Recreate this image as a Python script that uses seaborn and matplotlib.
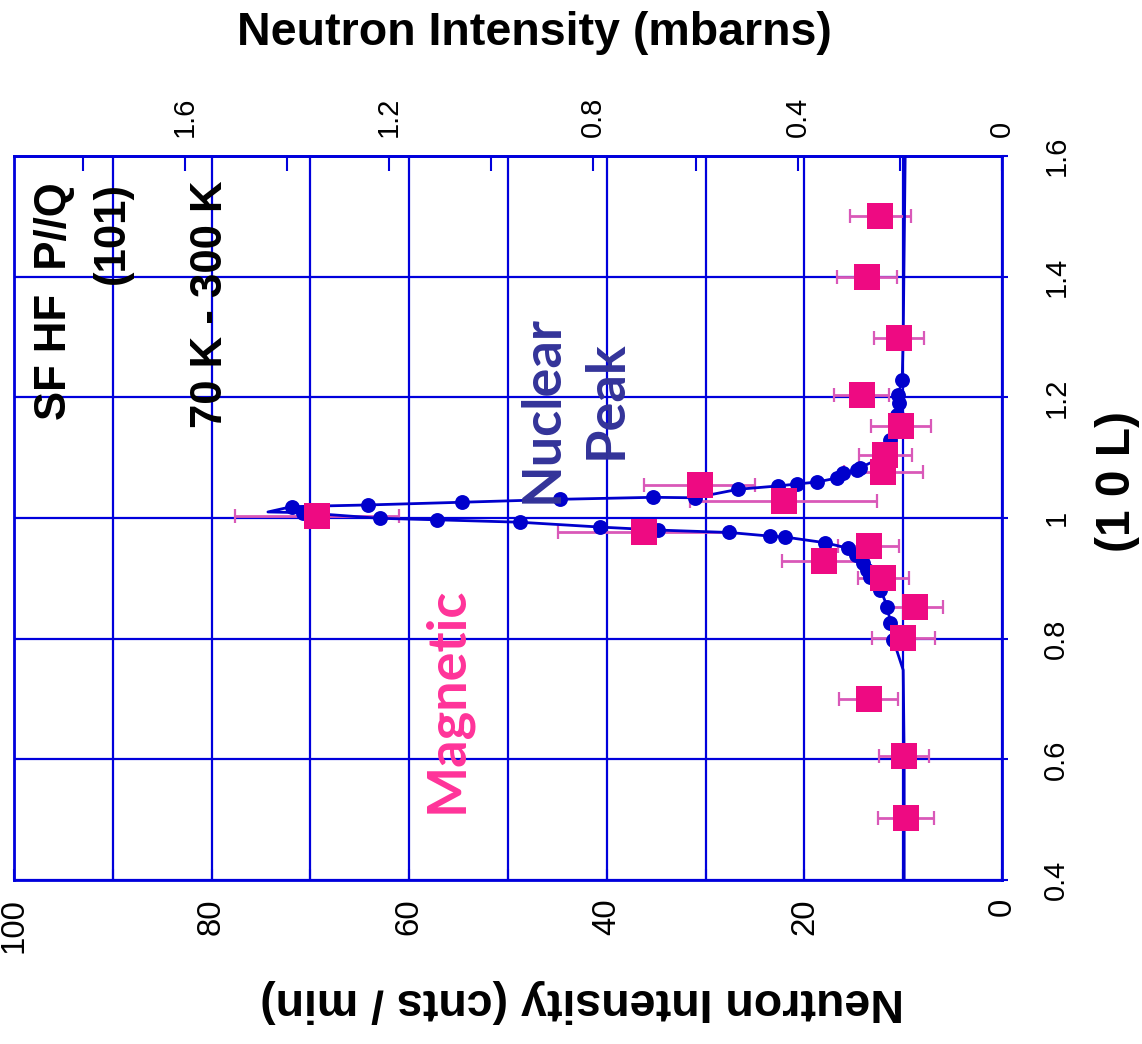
import numpy as np
import pandas as pd
import matplotlib
matplotlib.use("Agg")
import matplotlib.pyplot as plt
from matplotlib import font_manager as fm
import seaborn as sns

# ---- nuclear peak scan along (1 0 L): measured points (cnts/min) ----
nuc_L = [0.798, 0.826, 0.853, 0.881, 0.902, 0.914, 0.925, 0.938, 0.950, 0.959,
         0.9685, 0.970, 0.976, 0.980, 0.985, 0.993, 0.997, 0.9995, 1.0088,
         1.0188, 1.0216, 1.0261, 1.0310, 1.0343, 1.0335, 1.0476, 1.0531, 1.0564,
         1.0597, 1.0663, 1.0746, 1.0796, 1.0829, 1.0995, 1.129, 1.151, 1.170,
         1.190, 1.204, 1.229]
nuc_I = [11.0, 11.3, 11.6, 12.3, 13.4, 13.7, 14.1, 14.8, 15.6, 17.9,
         22.0, 23.5, 27.6, 34.8, 40.7, 48.8, 57.2, 63.0, 70.7,
         71.9, 64.2, 54.7, 44.7, 35.3, 31.1, 26.7, 22.7, 20.7,
         18.7, 16.7, 16.1, 14.7, 14.4, 12.3, 11.3, 10.8, 10.6,
         10.4, 10.5, 10.1]

# continuous trace through the scan, including the background tails
trace_L = [0.40, 0.60, 0.748, 0.798, 0.826, 0.853, 0.881, 0.902, 0.914, 0.925,
           0.938, 0.950, 0.959, 0.9685, 0.970, 0.976, 0.980, 0.985, 0.993,
           0.997, 0.9995, 1.0088, 1.0100, 1.0188, 1.0216, 1.0261, 1.0310,
           1.0343, 1.0335, 1.0476, 1.0531, 1.0564, 1.0597, 1.0663, 1.0746,
           1.0796, 1.0829, 1.0995, 1.129, 1.151, 1.170, 1.190, 1.204, 1.229,
           1.30, 1.45, 1.60]
trace_I = [9.9, 9.9, 10.0, 11.0, 11.3, 11.6, 12.3, 13.4, 13.7, 14.1,
           14.8, 15.6, 17.9, 22.0, 23.5, 27.6, 34.8, 40.7, 48.8,
           57.2, 63.0, 70.7, 74.3, 71.9, 64.2, 54.7, 44.7,
           35.3, 31.1, 26.7, 22.7, 20.7, 18.7, 16.7, 16.1,
           14.7, 14.4, 12.3, 11.3, 10.8, 10.6, 10.4, 10.5, 10.1,
           10.0, 9.9, 9.8]

# ---- spin-flip (magnetic) intensities with uncertainties ----
mag_L = [0.503, 0.605, 0.700, 0.801, 0.852, 0.901, 0.928, 0.953, 0.976,
         1.003, 1.028, 1.055, 1.076, 1.104, 1.153, 1.204, 1.299, 1.400, 1.501]
mag_I = [9.7, 9.9, 13.5, 10.0, 8.8, 12.0, 18.0, 13.5, 36.2,
         69.3, 22.1, 30.6, 12.0, 11.8, 10.2, 14.2, 10.4, 13.7, 12.3]
mag_err = [2.85, 2.5, 2.95, 3.2, 2.8, 2.6, 4.3, 3.1, 8.75,
           8.3, 9.45, 5.6, 4.0, 2.65, 3.05, 2.8, 2.55, 3.05, 3.1]

# ---- axis ticks ----
l_ticks = [0.4, 0.6, 0.8, 1.0, 1.2, 1.4, 1.6]
l_tick_labels = ["0.4", "0.6", "0.8", "1", "1.2", "1.4", "1.6"]
cnt_ticks = [100, 80, 60, 40, 20, 0]
cnt_tick_labels = ["100", "80", "60", "40", "20", "0"]
cnt_minor_ticks = [90, 70, 50, 30, 10]
mb_ticks = [1.6, 1.2, 0.8, 0.4, 0.0]
mb_tick_labels = ["1.6", "1.2", "0.8", "0.4", "0"]
mb_minor_ticks = [1.8, 1.4, 1.0, 0.6, 0.2]
CNTS_PER_MBARN = 51.7

BLUE = "#0000DC"
DOT_BLUE = "#0000CC"
PINK = "#EE0A82"
ERR_PINK = "#D958B8"
NUC_TEXT = "#333399"
MAG_TEXT = "#FF3399"

sns.set_style("white")
plt.rcParams["font.family"] = ["Liberation Sans", "DejaVu Sans"]
plt.rcParams["text.color"] = "black"
plt.rcParams["xtick.labelcolor"] = "black"
plt.rcParams["ytick.labelcolor"] = "black"


def has_font(name):
    try:
        fm.findfont(fm.FontProperties(family=name), fallback_to_default=False)
        return True
    except ValueError:
        return False


if has_font("Liberation Sans Narrow"):
    title_font = dict(family=["Liberation Sans Narrow", "DejaVu Sans"], size=40.5)
else:
    title_font = dict(family=["Liberation Sans", "DejaVu Sans"], size=33.5)

W, H = 1142, 1044
fig = plt.figure(figsize=(W / 100, H / 100), dpi=100)
fig.patch.set_facecolor("white")
ax = fig.add_axes([14 / W, 1 - 880 / H, 988 / W, 724 / H])

nuc_df = pd.DataFrame({"L": nuc_L, "I": nuc_I})
trace_df = pd.DataFrame({"L": trace_L, "I": trace_I})
mag_df = pd.DataFrame({"L": mag_L, "I": mag_I, "err": mag_err})

ax.errorbar(mag_df["I"], mag_df["L"], xerr=mag_df["err"], fmt="none",
            ecolor=ERR_PINK, elinewidth=2.0, capsize=4.7, capthick=1.6, zorder=2)
sns.lineplot(data=trace_df, x="I", y="L", sort=False, estimator=None,
             color=DOT_BLUE, lw=2.0, ax=ax, zorder=3)
sns.scatterplot(data=nuc_df, x="I", y="L", color=DOT_BLUE, s=115,
                linewidth=0, ax=ax, zorder=3)
sns.scatterplot(data=mag_df, x="I", y="L", color=PINK, marker="s", s=330,
                linewidth=0, ax=ax, zorder=4)

ax.set_xlim(100, 0)
ax.set_ylim(0.4, 1.6)
ax.set_xlabel("")
ax.set_ylabel("")

# bottom axis: counts
ax.set_xticks(cnt_ticks, labels=cnt_tick_labels)
ax.set_xticks(cnt_minor_ticks, minor=True)
ax.tick_params(axis="x", which="both", direction="in", length=8, width=1.5,
               color=BLUE, bottom=True, top=False)
ax.tick_params(axis="x", which="major", labelsize=23.8, pad=13,
               labelrotation=90, labelcolor="black")

# right axis: (1 0 L)
ax.yaxis.tick_right()
ax.set_yticks(l_ticks, labels=l_tick_labels)
ax.tick_params(axis="y", which="major", direction="out", length=4, width=1.5,
               color=BLUE, left=False, right=True, labelleft=False,
               labelright=True, labelsize=21, pad=25, labelrotation=90,
               labelcolor="black")
for lab in ax.get_yticklabels():
    lab.set_va("center")

ax.grid(True, which="major", axis="both", color=BLUE, lw=1.6)
ax.xaxis.grid(True, which="minor", color=BLUE, lw=1.6)
ax.set_axisbelow(True)
for sp in ax.spines.values():
    sp.set_color(BLUE)
    sp.set_linewidth(2.0)
    sp.set_visible(True)

# top axis: mbarns
sec = ax.secondary_xaxis("top", functions=(lambda x: x / CNTS_PER_MBARN,
                                           lambda m: m * CNTS_PER_MBARN))
sec.set_xticks(mb_ticks, labels=mb_tick_labels)
sec.set_xticks(mb_minor_ticks, minor=True)
sec.tick_params(which="both", direction="in", length=11, width=1.5, color=BLUE)
sec.tick_params(which="major", labelsize=21, pad=13.7, labelrotation=90,
                labelcolor="black")
sec.spines["top"].set_color(BLUE)
sec.spines["top"].set_linewidth(2.0)


def fx(px):
    return px / W


def fy(py):
    return 1 - py / H


# axis titles
fig.text(fx(534), fy(33), "Neutron Intensity (mbarns)", ha="center",
         va="center", weight="bold", color="black", **title_font)
fig.text(fx(582), fy(1001), "Neutron Intensity (cnts / min)", ha="center",
         va="center", rotation=180, weight="bold", color="black", **title_font)
fig.text(fx(1117), fy(481), "(1 0 L)", ha="center", va="center", rotation=90,
         weight="bold", size=34.5, color="black",
         family=["Liberation Sans", "DejaVu Sans"])

# in-plot annotations
lab_font = dict(weight="bold", size=31.5, family=["Liberation Sans", "DejaVu Sans"],
                rotation=90, ha="center", va="top", color="black", zorder=6)
fig.text(fx(55), fy(182), "SF HF  P//Q", **lab_font)
fig.text(fx(112), fy(182), "(101)", **lab_font)
fig.text(fx(211), fy(181), "70 K - 300 K", **lab_font)

hand_font = dict(weight="bold", size=39, family=["Lato", "DejaVu Sans"],
                 rotation=90, ha="center", va="center", zorder=6)
fig.text(fx(542), fy(409), "Nuclear", color=NUC_TEXT, **hand_font)
fig.text(fx(606), fy(400), "Peak", color=NUC_TEXT, **hand_font)
fig.text(fx(447), fy(700), "Magnetic", color=MAG_TEXT, **hand_font)

fig.savefig("out.png", dpi=100, facecolor="white")
